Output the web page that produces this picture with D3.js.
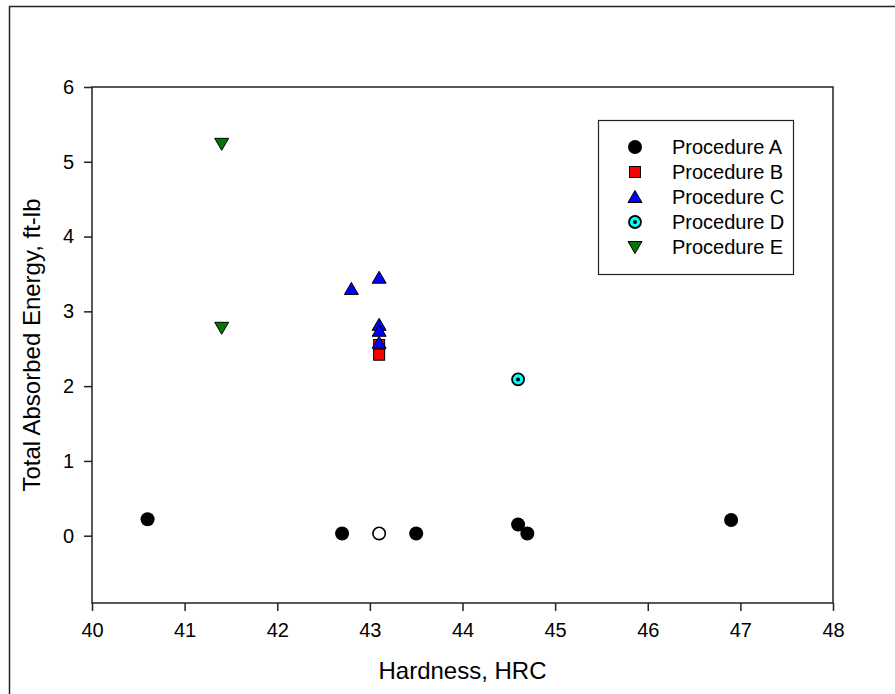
<!DOCTYPE html>
<html>
<head>
<meta charset="utf-8">
<script src="https://cdn.jsdelivr.net/npm/d3@7"></script>
<style>
    body { margin: 0; background: #fff; }
    text { font-family: "Liberation Sans", Arial, sans-serif; fill: #000; }
</style>
</head>
<body>
<div id="chart"></div>
<script>
// values
const procA = [[40.6, 0.22], [42.7, 0.03], [43.5, 0.03], [44.6, 0.15], [44.7, 0.03], [46.9, 0.21]];
const openA = [[43.1, 0.03]];
const procB = [[43.1, 2.55], [43.1, 2.42]];
const procC = [[42.8, 3.30], [43.1, 3.45], [43.1, 2.82], [43.1, 2.74], [43.1, 2.58]];
const procD = [[44.6, 2.09]];
const procE = [[41.4, 5.24], [41.4, 2.78]];

const legendLabels = ["Procedure A", "Procedure B", "Procedure C", "Procedure D", "Procedure E"];
const xTicks = [40, 41, 42, 43, 44, 45, 46, 47, 48];
const yTicks = [0, 1, 2, 3, 4, 5, 6];

class ScatterVis {

    constructor(parentElement) {
        this.parentElement = parentElement;
        this.initVis();
    }

    initVis() {
        let vis = this;

        vis.margin = {top: 87, right: 62, bottom: 91, left: 92};
        vis.width = 895 - vis.margin.left - vis.margin.right;
        vis.height = 694 - vis.margin.top - vis.margin.bottom;

        vis.root = d3.select("#" + vis.parentElement).append("svg")
            .attr("width", 895)
            .attr("height", 694);

        // outer page frame (runs off right/bottom)
        vis.root.append("rect")
            .attr("x", 9.5).attr("y", 6.5)
            .attr("width", 900).attr("height", 700)
            .attr("fill", "none")
            .attr("stroke", "#222")
            .attr("stroke-width", 1.5);

        vis.svg = vis.root.append("g")
            .attr("transform", `translate(${vis.margin.left}, ${vis.margin.top})`);

        vis.x = d3.scaleLinear().domain([40, 48]).range([0, vis.width]);
        vis.y = d3.scaleLinear().domain([-0.9, 6]).range([vis.height, 0]);

        vis.xAxis = d3.axisBottom(vis.x).tickValues(xTicks).tickSize(8).tickPadding(12).tickFormat(d3.format("d"));
        vis.yAxis = d3.axisLeft(vis.y).tickValues(yTicks).tickSize(8).tickPadding(10).tickFormat(d3.format("d"));

        // box
        vis.svg.append("rect")
            .attr("width", vis.width)
            .attr("height", vis.height)
            .attr("fill", "none")
            .attr("stroke", "#222")
            .attr("stroke-width", 1.5);

        let gx = vis.svg.append("g")
            .attr("transform", `translate(0, ${vis.height})`)
            .call(vis.xAxis);
        let gy = vis.svg.append("g").call(vis.yAxis);

        [gx, gy].forEach(g => {
            g.select(".domain").remove();
            g.selectAll(".tick line").attr("stroke", "#222").attr("stroke-width", 1.5);
            g.selectAll(".tick text")
                .attr("font-size", 20)
                .attr("font-family", "Liberation Sans, Arial, sans-serif")
                .attr("fill", "#000");
        });

        // axis titles
        vis.svg.append("text")
            .attr("x", vis.width / 2)
            .attr("y", vis.height + 76)
            .attr("text-anchor", "middle")
            .attr("font-size", 24)
            .text("Hardness, HRC");

        vis.svg.append("text")
            .attr("transform", `translate(-52, ${vis.height / 2}) rotate(-90)`)
            .attr("text-anchor", "middle")
            .attr("font-size", 24)
            .text("Total Absorbed Energy, ft-lb");

        vis.updateVis();
        vis.drawLegend();
    }

    // marker painters
    marker(g, kind) {
        if (kind === 0) {
            g.append("circle").attr("r", 7).attr("fill", "#000");
        } else if (kind === 1) {
            g.append("rect").attr("x", -5.5).attr("y", -5.5).attr("width", 11).attr("height", 11)
                .attr("fill", "#ff0000").attr("stroke", "#000").attr("stroke-width", 1);
        } else if (kind === 2) {
            g.append("path").attr("d", "M0,-6.5L7,5.5L-7,5.5Z")
                .attr("fill", "#0000ff").attr("stroke", "#000").attr("stroke-width", 1);
        } else if (kind === 3) {
            g.append("circle").attr("r", 6).attr("fill", "#00ffff").attr("stroke", "#000").attr("stroke-width", 1.8);
            g.append("circle").attr("r", 2).attr("fill", "#000");
        } else if (kind === 4) {
            g.append("path").attr("d", "M0,6.5L7,-5.5L-7,-5.5Z")
                .attr("fill", "#007700").attr("stroke", "#000").attr("stroke-width", 1);
        } else {
            g.append("circle").attr("r", 6.2).attr("fill", "#fff").attr("stroke", "#000").attr("stroke-width", 1.6);
        }
    }

    updateVis() {
        let vis = this;
        let series = [procA, procB, procC, procD, procE, openA];

        series.forEach((data, k) => {
            vis.svg.append("g").selectAll("g").data(data)
                .enter()
                .append("g")
                .attr("transform", d => `translate(${vis.x(d[0])}, ${vis.y(d[1])})`)
                .each(function () { vis.marker(d3.select(this), k); });
        });
    }

    drawLegend() {
        let vis = this;

        let lg = vis.root.append("g").attr("transform", "translate(598, 120)");
        lg.append("rect")
            .attr("x", 0.5).attr("y", 0.5)
            .attr("width", 195).attr("height", 154)
            .attr("fill", "#fff")
            .attr("stroke", "#222")
            .attr("stroke-width", 1.2);

        legendLabels.forEach((label, i) => {
            let row = lg.append("g").attr("transform", `translate(37, ${27 + i * 25})`);
            vis.marker(row, i);
            row.append("text")
                .attr("x", 37)
                .attr("y", 7)
                .attr("font-size", 20)
                .text(label);
        });
    }
}

new ScatterVis("chart");
</script>
</body>
</html>
